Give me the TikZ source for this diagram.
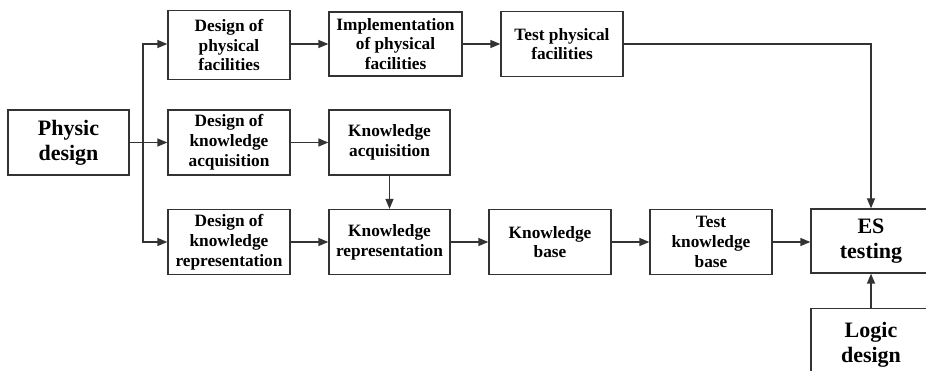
\documentclass[tikz,border=0pt]{standalone}
\usepackage{fontspec}
\setmainfont{Liberation Serif}
\usetikzlibrary{arrows.meta}
\tikzset{
  box/.style={draw=black!80,line width=1.3pt,fill=white,align=center,inner sep=0pt,
    font=\fontsize{17.3}{19.8}\selectfont\bfseries,minimum height=65pt},
  bigbox/.style={box,font=\fontsize{22}{25}\selectfont\bfseries},
  arr/.style={draw=black!80,line width=1.3pt,-{Triangle[length=10pt,width=8pt]}},
}
\begin{document}
\begin{tikzpicture}[x=1pt,y=-1pt]
  \useasboundingbox (0,0) rectangle (926,371);
  \clip (0,0) rectangle (926,371);
  % left box and its three branches
  \node[bigbox,minimum width=121pt] (phys) at (68.5,142.5) {Physic\\design};
  \node[box,minimum width=122pt,minimum height=69pt] (dpf) at (229,45) {Design of\\physical\\facilities};
  \node[box,minimum width=122pt] (dka) at (229,142.5) {Design of\\knowledge\\acquisition};
  \node[box,minimum width=122pt] (dkr) at (229,242) {Design of\\knowledge\\representation};
  % second column
  \node[box,minimum width=133pt,minimum height=64pt] (ipf) at (395.5,44) {Implementation\\of physical\\facilities};
  \node[box,minimum width=121pt] (ka) at (389.5,142.5) {Knowledge\\acquisition};
  \node[box,minimum width=121pt] (kr) at (389.5,242) {Knowledge\\representation};
  % further right
  \node[box,minimum width=122pt] (tpf) at (562,44) {Test physical\\facilities};
  \node[box,minimum width=122pt] (kb) at (550,242) {Knowledge\\base};
  \node[box,minimum width=122pt] (tkb) at (711,242) {Test\\knowledge\\base};
  \node[bigbox,minimum width=120pt,minimum height=64pt] (es) at (871,241) {ES\\testing};
  \node[bigbox,minimum width=120pt,minimum height=72pt,anchor=north] (logic) at (871,308) {Logic\\design};
  % branching from the left box
  \coordinate (br) at (143,142.5);
  \draw[draw=black!80,line width=1.3pt] (phys.east) -- (br);
  \draw[arr] (br) |- (tpf.west -| dpf.west);
  \draw[arr] (br) |- (dka.west);
  \draw[arr] (br) |- (dkr.west);
  % rows
  \draw[arr] (ipf.west -| dpf.east) -- (ipf.west);
  \draw[arr] (ipf.east) -- (tpf.west);
  \draw[arr] (tpf.east) -| (es.north);
  \draw[arr] (dka.east) -- (dka.east -| ka.west);
  \draw[arr] (ka.south) -- (kr.north);
  \draw[arr] (dkr.east) -- (kr.west);
  \draw[arr] (kr.east) -- (kb.west);
  \draw[arr] (kb.east) -- (tkb.west);
  \draw[arr] (tkb.east) -- (tkb.east -| es.west);
  \draw[arr] (logic.north) -- (es.south);
\end{tikzpicture}
\end{document}
